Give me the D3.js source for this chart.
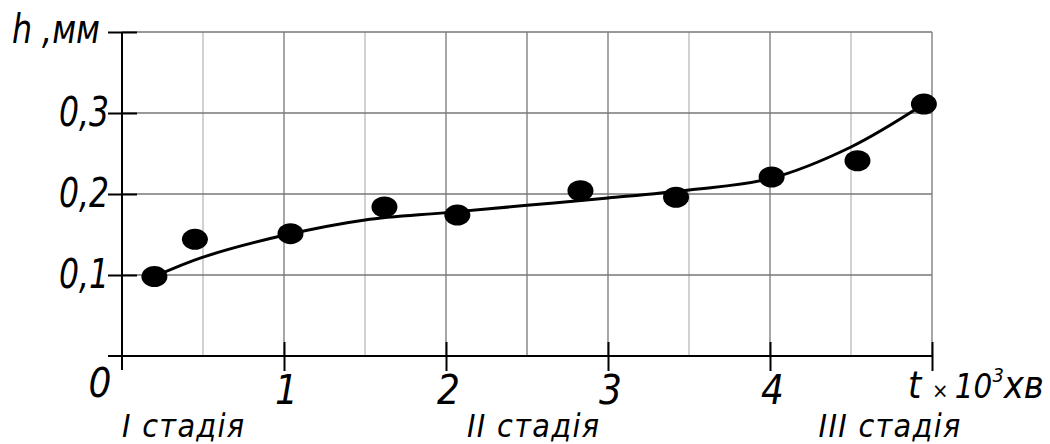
<!DOCTYPE html>
<html>
<head>
<meta charset="utf-8">
<script src="https://cdn.jsdelivr.net/npm/d3@7"></script>
<style>
  body { margin: 0; background: #fff; }
  text { font-family: "DejaVu Sans Condensed", "DejaVu Sans", sans-serif; font-stretch: condensed; font-style: italic; fill: #000; }
</style>
</head>
<body>
<svg id="chart" width="1050" height="444"></svg>
<script>
// measured points, t (x10^3 хв) vs h (мм)
const tValues = [0.2, 0.45, 1.04, 1.62, 2.07, 2.83, 3.42, 4.01, 4.54, 4.95];
const hValues = [0.098, 0.144, 0.151, 0.184, 0.174, 0.204, 0.196, 0.221, 0.241, 0.311];

// hand-drawn trend curve
const curveT = [0.2, 0.5, 1.0, 1.5, 2.0, 2.5, 3.0, 3.5, 4.0, 4.5, 4.95];
const curveH = [0.098, 0.122, 0.149, 0.168, 0.177, 0.186, 0.195, 0.205, 0.219, 0.258, 0.311];

const xTicks = [1, 2, 3, 4, 5];
const xTickLabels = ["1", "2", "3", "4", ""];
const yTicks = [0.1, 0.2, 0.3, 0.4];
const yTickLabels = ["0,1", "0,2", "0,3", ""];
const xGrid = [0.5, 1, 1.5, 2, 2.5, 3, 3.5, 4, 4.5, 5];
const lightGrid = [0.5, 1.5, 3.5, 4.5];
const stages = ["I  стадія", "II  стадія", "III  стадія"];
const stageT = [0, 2.13, 4.3];

const svg = d3.select("#chart");
const x = d3.scaleLinear().domain([0, 5]).range([122, 932]);
const y = d3.scaleLinear().domain([0, 0.4]).range([356, 32]);

// squeeze a text horizontally so it ends up w px wide, anchored at its left edge
function fitWidth(sel, w) {
  sel.each(function () {
    const b = this.getBBox();
    const k = w / b.width;
    d3.select(this).attr("transform",
      `translate(${b.x},0) scale(${k},1) translate(${-b.x},0)`);
  });
}

// grid
svg.append("g").selectAll("line").data(xGrid).join("line")
  .attr("x1", d => x(d)).attr("x2", d => x(d))
  .attr("y1", y(0)).attr("y2", y(0.4))
  .attr("stroke", d => lightGrid.includes(d) ? "#b8b8b8" : "#777")
  .attr("stroke-width", 1.3);

svg.append("g").selectAll("line").data(yTicks).join("line")
  .attr("x1", x(0)).attr("x2", x(5))
  .attr("y1", d => y(d)).attr("y2", d => y(d))
  .attr("stroke", "#777")
  .attr("stroke-width", 1.3);

// y axis
const yAxis = svg.append("g")
  .attr("transform", `translate(${x(0)},0)`)
  .call(d3.axisLeft(y).tickValues(yTicks).tickSize(14).tickSizeOuter(0)
    .tickFormat((d, i) => yTickLabels[i]));
yAxis.select(".domain").remove();
yAxis.selectAll(".tick line").attr("x1", 15).attr("stroke", "#000").attr("stroke-width", 2);
yAxis.selectAll(".tick text")
  .attr("x", -13).attr("dy", 12)
  .style("font-size", "40px");
svg.append("line")
  .attr("x1", x(0)).attr("x2", x(0))
  .attr("y1", y(0.4)).attr("y2", y(0) + 14)
  .attr("stroke", "#000").attr("stroke-width", 2);

// x axis
const xAxis = svg.append("g")
  .attr("transform", `translate(0,${y(0)})`)
  .call(d3.axisBottom(x).tickValues(xTicks).tickSize(15).tickSizeOuter(0)
    .tickFormat((d, i) => xTickLabels[i]));
xAxis.select(".domain").remove();
xAxis.selectAll(".tick line").attr("y1", -14).attr("stroke", "#000").attr("stroke-width", 2);
xAxis.selectAll(".tick text")
  .attr("y", 48).attr("dy", 0).attr("dx", 2)
  .style("font-size", "40px");
svg.append("line")
  .attr("x1", x(0) - 14).attr("x2", x(5))
  .attr("y1", y(0)).attr("y2", y(0))
  .attr("stroke", "#000").attr("stroke-width", 2);

svg.selectAll(".tick text").attr("font-family", null).attr("font-size", null);

// y tick labels are narrow in the original: right edge at the tick start, 50px wide
yAxis.selectAll(".tick text").each(function () {
  const b = this.getBBox();
  if (!b.width) return;
  const k = 50 / b.width, r = b.x + b.width;
  d3.select(this).attr("transform", `translate(${r},0) scale(${k},1) translate(${-r},0)`);
});

// origin label
svg.append("text")
  .attr("x", x(0) - 22).attr("y", y(0) + 41)
  .attr("text-anchor", "middle")
  .style("font-size", "40px")
  .text("0");

// axis titles
svg.append("text")
  .attr("x", 12).attr("y", 43)
  .style("font-size", "40px")
  .text("h ,мм")
  .call(fitWidth, 88);

const xt = svg.append("text")
  .attr("x", 908).attr("y", 398)
  .style("font-size", "38px");
xt.append("tspan").text("t ");
xt.append("tspan").style("font-size", "22px").text("× ");
xt.append("tspan").style("font-size", "33px").text("10");
xt.append("tspan").attr("dy", -16).style("font-size", "20px").text("3");
xt.append("tspan").attr("dy", 16).text("хв");
xt.call(fitWidth, 136);

// stage labels
svg.append("g").selectAll("text").data(stages).join("text")
  .attr("x", (d, i) => x(stageT[i]))
  .attr("y", 437)
  .style("font-size", "32px")
  .style("letter-spacing", "1.3px")
  .text(d => d);

// trend curve
const curve = d3.line()
  .x(d => x(d[0])).y(d => y(d[1]))
  .curve(d3.curveCatmullRom.alpha(0.5));
svg.append("path")
  .datum(d3.zip(curveT, curveH))
  .attr("d", curve)
  .attr("fill", "none")
  .attr("stroke", "#000")
  .attr("stroke-width", 3);

// points
svg.append("g").selectAll("ellipse").data(d3.zip(tValues, hValues)).join("ellipse")
  .attr("cx", d => x(d[0])).attr("cy", d => y(d[1]))
  .attr("rx", 13).attr("ry", 10.5)
  .attr("fill", "#000");
</script>
</body>
</html>
